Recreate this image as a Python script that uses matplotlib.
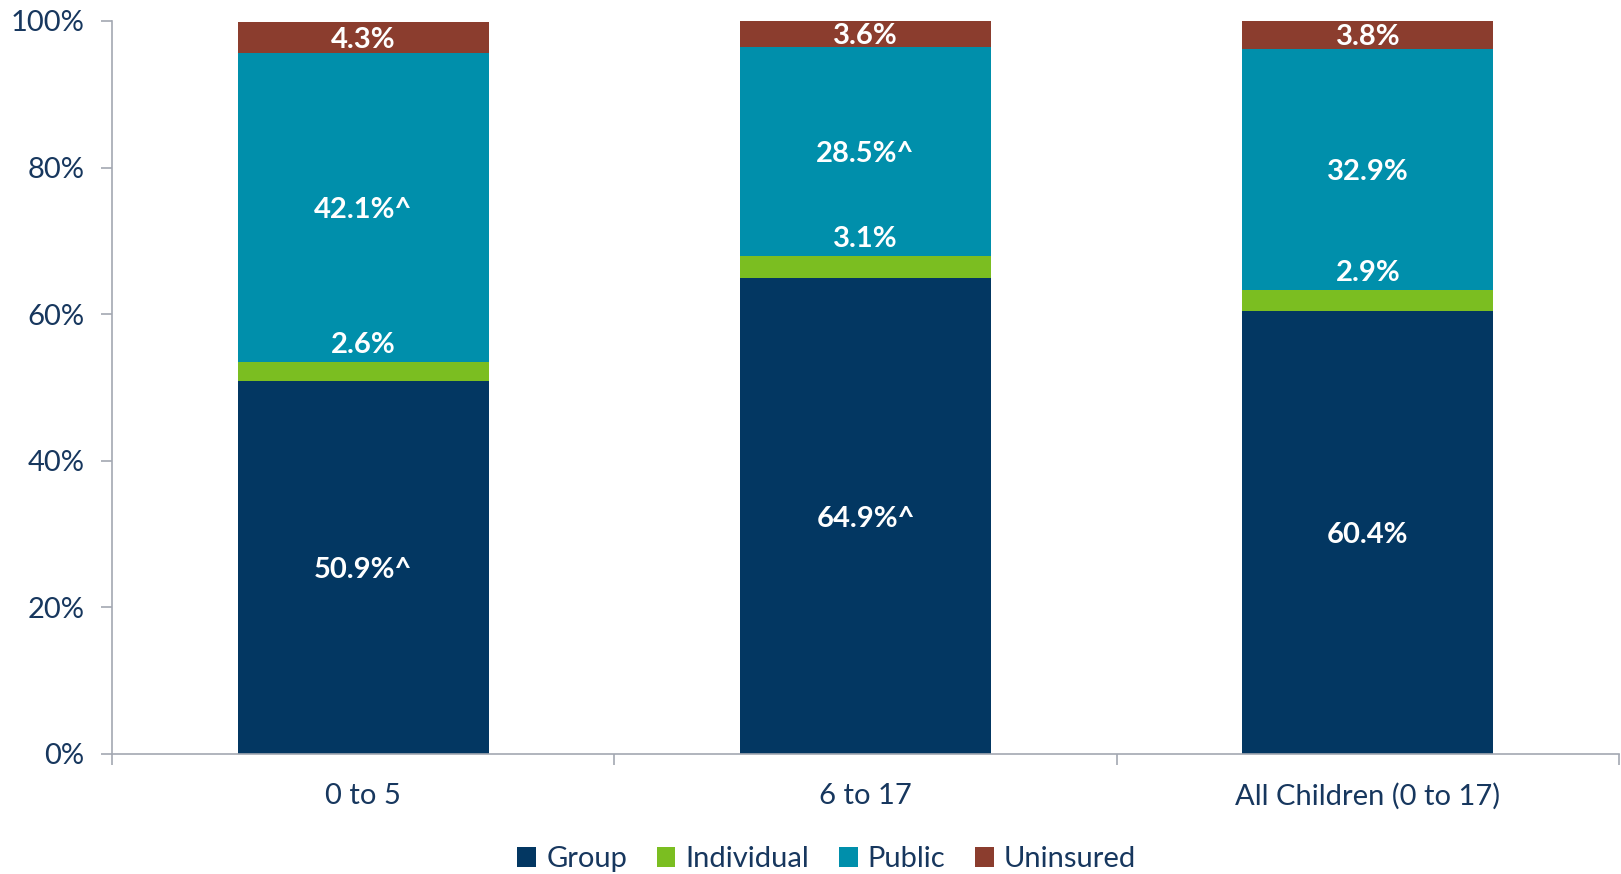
import matplotlib
matplotlib.use("Agg")
import matplotlib.pyplot as plt
import numpy as np

categories = ["0 to 5", "6 to 17", "All Children (0 to 17)"]
series_names = ["Group", "Individual", "Public", "Uninsured"]
group = [50.9, 64.9, 60.4]
individual = [2.6, 3.1, 2.9]
public = [42.1, 28.5, 32.9]
uninsured = [4.3, 3.6, 3.8]
group_labels = ["50.9%^", "64.9%^", "60.4%"]
individual_labels = ["2.6%", "3.1%", "2.9%"]
public_labels = ["42.1%^", "28.5%^", "32.9%"]
uninsured_labels = ["4.3%", "3.6%", "3.8%"]
yticks = [0, 20, 40, 60, 80, 100]
ytick_labels = ["0%", "20%", "40%", "60%", "80%", "100%"]

colors = ["#033762", "#7BBE21", "#008FAB", "#8B3D2E"]
text_color = "#17375E"
axis_color = "#A3A8B2"

plt.rcParams['font.family'] = ['Lato', 'DejaVu Sans']

fig = plt.figure(figsize=(16.21, 8.74), dpi=100)
ax = fig.add_axes([0.0691, 0.1373, 0.9297, 0.8387])

x = np.arange(len(categories))
w = 0.5
vals = [group, individual, public, uninsured]
labels = [group_labels, individual_labels, public_labels, uninsured_labels]
bottom = np.zeros(len(categories))
for i, (v, name) in enumerate(zip(vals, series_names)):
    v = np.array(v)
    ax.bar(x, v, w, bottom=bottom, color=colors[i], label=name,
           edgecolor="none")
    for j in range(len(categories)):
        if i == 1:
            yy = bottom[j] + v[j] + 2.6
        else:
            yy = bottom[j] + v[j] / 2
        ax.text(x[j], yy, labels[i][j], ha="center", va="center_baseline",
                color="white", fontsize=21, fontweight="bold")
    bottom = bottom + v

ax.set_xlim(-0.5, 2.5)
ax.set_ylim(0, 100)
ax.set_yticks(yticks)
ax.set_yticklabels(ytick_labels)
ax.set_xticks(x)
ax.set_xticklabels(categories)
ax.set_xticks([-0.5, 0.5, 1.5, 2.5], minor=True)
ax.tick_params(axis="x", which="major", length=0, pad=21, labelsize=21,
               labelcolor=text_color)
ax.tick_params(axis="x", which="minor", length=8, color=axis_color, width=1.2)
ax.tick_params(axis="y", length=8, color=axis_color, width=1.2, pad=12,
               labelsize=21, labelcolor=text_color)
for s in ["top", "right"]:
    ax.spines[s].set_visible(False)
for s in ["left", "bottom"]:
    ax.spines[s].set_color(axis_color)
    ax.spines[s].set_linewidth(1.2)

leg = fig.legend(loc="center", bbox_to_anchor=(0.51, 0.017), ncol=4,
                 frameon=False, fontsize=21, handlelength=0.65,
                 handleheight=0.65, handletextpad=0.35, columnspacing=1.0)
for t in leg.get_texts():
    t.set_color(text_color)

fig.savefig("out.png", dpi=100)
